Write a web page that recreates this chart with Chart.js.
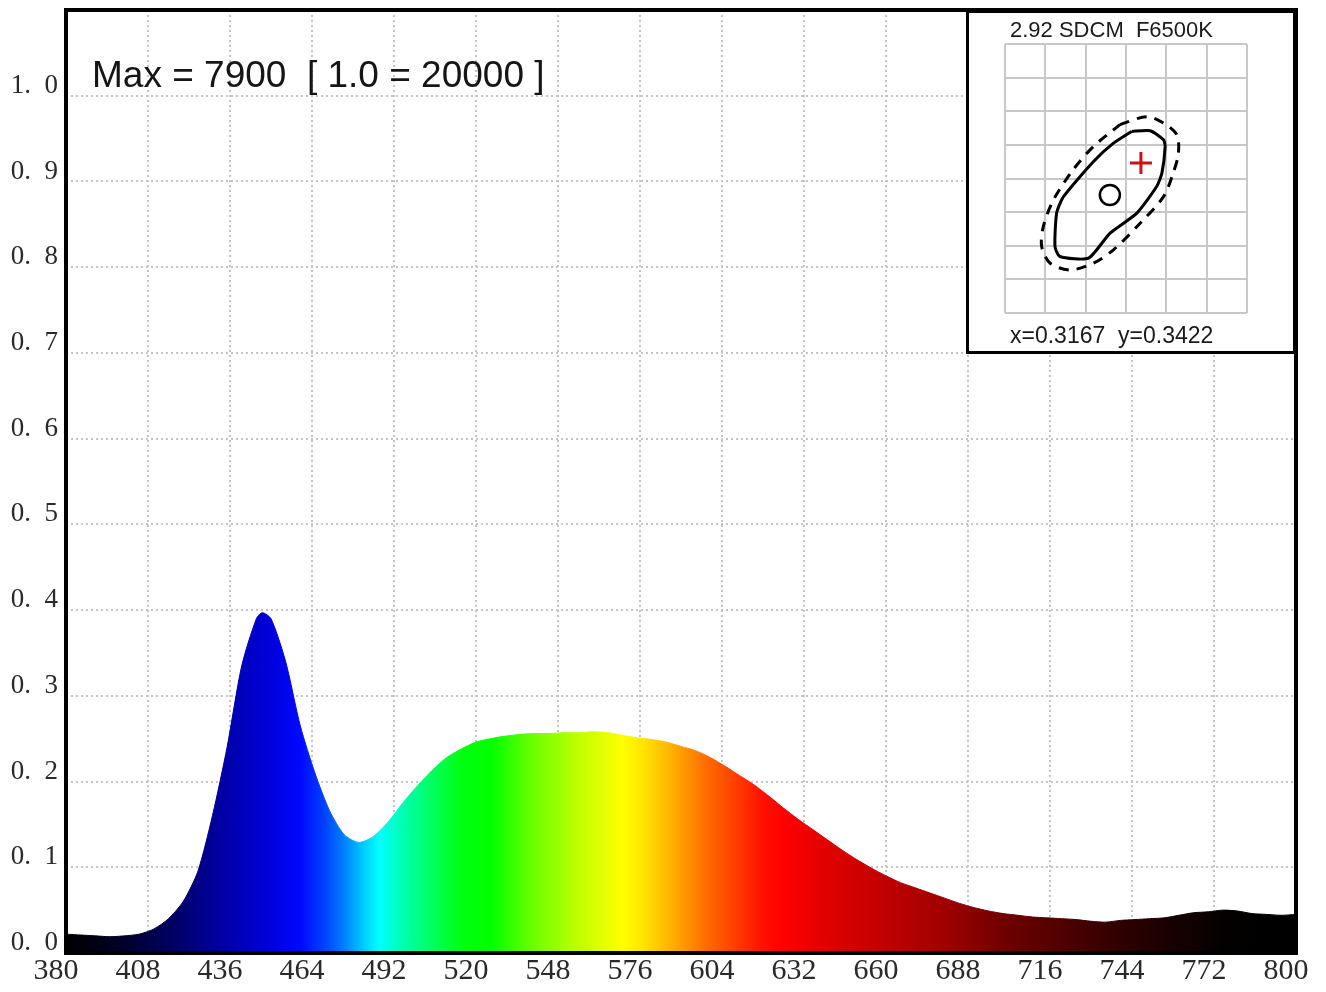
<!DOCTYPE html>
<html>
<head>
<meta charset="utf-8">
<script src="https://cdn.jsdelivr.net/npm/chart.js@4"></script>
<style>
  html, body { margin: 0; padding: 0; background: #fff; }
  #wrap { position: relative; width: 1326px; height: 992px; }
  #spectrum { position: absolute; left: 0; top: 0; }
  #inset { position: absolute; left: 966px; top: 10px; background: #fff; }
</style>
</head>
<body>
<div id="wrap">
  <canvas id="spectrum" width="1326" height="992"></canvas>
  <canvas id="inset" width="330" height="344"></canvas>
</div>
<script>
/* ── Data: relative spectral power (1.0 = 20000) ─────────── */

const wavelengths = [
  380, 385, 390, 395, 400, 405, 410, 415, 420, 425, 430, 435, 440, 445, 447, 450,
  455, 460, 465, 470, 475, 480, 485, 490, 495, 500, 505, 510, 515, 520, 525, 530,
  535, 540, 545, 550, 555, 560, 565, 570, 575, 580, 585, 590, 595, 600, 605, 610,
  615, 620, 625, 630, 635, 640, 645, 650, 655, 660, 665, 670, 675, 680, 685, 690,
  695, 700, 705, 710, 715, 720, 725, 730, 735, 740, 745, 750, 755, 760, 765, 770,
  775, 780, 785, 790, 795, 800
];

const intensity = [
  0.022, 0.021, 0.020, 0.019, 0.020, 0.022, 0.028, 0.040, 0.060, 0.095, 0.160, 0.240, 0.335, 0.390, 0.397, 0.390,
  0.340, 0.265, 0.210, 0.166, 0.138, 0.129, 0.136, 0.153, 0.175, 0.195, 0.213, 0.228, 0.238, 0.246, 0.250, 0.253,
  0.255, 0.256, 0.256, 0.257, 0.257, 0.258, 0.257, 0.254, 0.251, 0.249, 0.246, 0.241, 0.236, 0.228, 0.218, 0.207,
  0.196, 0.183, 0.169, 0.156, 0.144, 0.132, 0.120, 0.109, 0.099, 0.090, 0.082, 0.076, 0.070, 0.064, 0.058, 0.053,
  0.049, 0.046, 0.044, 0.042, 0.041, 0.040, 0.039, 0.037, 0.036, 0.038, 0.039, 0.040, 0.041, 0.044, 0.047, 0.048,
  0.050, 0.049, 0.046, 0.045, 0.044, 0.045
];

const xTickStep = 28;
const yTickStep = 0.1;

/* ── Data: chromaticity inset (grid units, 6 x 8 cells) ──── */

const solidContourX = [3.14, 3.60, 3.93, 3.97, 3.89, 3.76, 3.27, 2.60, 2.07, 1.36, 1.24, 1.28, 1.45, 2.19, 2.69, 3.14];
const solidContourY = [5.40, 5.42, 5.15, 4.95, 4.16, 3.76, 2.97, 2.37, 1.63, 1.68, 1.97, 2.97, 3.46, 4.50, 5.05, 5.40];

const dashedContourX = [2.85, 3.51, 3.93, 4.26, 4.30, 4.17, 3.93, 3.35, 2.69, 2.19, 1.61, 1.12, 0.91, 0.95, 1.20, 1.69, 2.19, 2.85];
const dashedContourY = [5.60, 5.84, 5.65, 5.30, 4.75, 4.16, 3.46, 2.67, 1.88, 1.48, 1.28, 1.48, 1.97, 2.57, 3.36, 4.26, 4.95, 5.60];

const targetPoint = { x: 2.60, y: 3.51 };
const measuredPoint = { x: 3.37, y: 4.46 };

/* ── Spectrum colours ─────────────────────────────────────── */

const SPECTRUM_STOPS = [
  [380, '#000000'], [400, '#00002a'], [410, '#000050'], [420, '#000070'],
  [430, '#000098'], [440, '#0000bc'], [450, '#0000dc'], [460, '#0008ff'],
  [468, '#0040ff'], [475, '#0080ff'], [482, '#00d0ff'], [487, '#00ffff'],
  [495, '#00ffb0'], [505, '#00ff60'], [515, '#00ff10'], [525, '#00ff00'],
  [540, '#70ff00'], [555, '#c0ff00'], [570, '#ffff00'], [578, '#ffe000'],
  [588, '#ffaa00'], [598, '#ff7000'], [608, '#ff4000'], [618, '#ff1000'],
  [625, '#ff0000'], [640, '#e00000'], [660, '#c00000'], [680, '#a00000'],
  [700, '#700000'], [720, '#500000'], [740, '#300000'], [760, '#150000'],
  [775, '#050000'], [790, '#000000'], [800, '#000000'],
];

let cachedGradient = null;
let cachedWidth = 0;

function spectrumGradient(context) {
  const chart = context.chart;
  const { ctx, chartArea, scales } = chart;
  if (!chartArea) return '#000';
  const width = chartArea.right - chartArea.left;
  if (cachedGradient && cachedWidth === width) return cachedGradient;
  const x0 = scales.x.getPixelForValue(380);
  const x1 = scales.x.getPixelForValue(800);
  const g = ctx.createLinearGradient(x0, 0, x1, 0);
  SPECTRUM_STOPS.forEach(([nm, color]) => {
    const p = (scales.x.getPixelForValue(nm) - x0) / (x1 - x0);
    g.addColorStop(Math.min(1, Math.max(0, p)), color);
  });
  cachedGradient = g;
  cachedWidth = width;
  return g;
}

/* ── Plugins ──────────────────────────────────────────────── */

const framePlugin = {
  id: 'frame',
  afterDraw(chart, args, opts) {
    const { ctx, chartArea } = chart;
    ctx.save();
    ctx.strokeStyle = '#000';
    ctx.lineWidth = opts.width || 3;
    ctx.strokeRect(chartArea.left, chartArea.top,
      chartArea.right - chartArea.left, chartArea.bottom - chartArea.top);
    ctx.restore();
  },
};

const maxLabelPlugin = {
  id: 'maxLabel',
  afterDatasetsDraw(chart) {
    const { ctx, chartArea } = chart;
    ctx.save();
    ctx.font = '37px "Liberation Sans", Arial, sans-serif';
    ctx.fillStyle = '#151515';
    ctx.textBaseline = 'alphabetic';
    ctx.fillText('Max = 7900  [ 1.0 = 20000 ]', chartArea.left + 26, chartArea.top + 77);
    ctx.restore();
  },
};

const insetTextPlugin = {
  id: 'insetText',
  afterDraw(chart) {
    const { ctx, chartArea, width, height } = chart;
    ctx.save();
    ctx.strokeStyle = '#000';
    ctx.lineWidth = 3;
    ctx.strokeRect(1.5, 1.5, width - 3, height - 3);
    ctx.fillStyle = '#1a1a1a';
    ctx.font = '22px "Liberation Sans", Arial, sans-serif';
    ctx.fillText('2.92 SDCM  F6500K', chartArea.left + 5, chartArea.top - 7);
    ctx.font = '23px "Liberation Sans", Arial, sans-serif';
    ctx.fillText('x=0.3167  y=0.3422', chartArea.left + 5, chartArea.bottom + 30);
    ctx.restore();
  },
};

/* ── Main spectrum chart ──────────────────────────────────── */

function formatYTick(value) {
  if (value > 1.05) return '';
  const s = value.toFixed(1);
  return s.replace('.', '.\u2002');
}

// fixed plot box: scales must not add their own label padding
function fixX(scale) {
  scale.height = 39;
  scale.paddingLeft = 0;
  scale.paddingRight = 0;
}

function fixY(scale) {
  scale.width = 66;
  scale.paddingTop = 0;
  scale.paddingBottom = 0;
}

new Chart(document.getElementById('spectrum'), {
  type: 'line',
  data: {
    datasets: [
      {
        data: wavelengths.map((w, i) => ({ x: w, y: intensity[i] })),
        backgroundColor: spectrumGradient,
        borderColor: spectrumGradient,
        borderWidth: 1,
        pointRadius: 0,
        fill: 'origin',
        tension: 0.25,
      },
    ],
  },
  options: {
    responsive: false,
    animation: false,
    devicePixelRatio: 1,
    layout: { padding: { top: 10, right: 30, left: 0, bottom: 0 } },
    plugins: {
      legend: { display: false },
      tooltip: { enabled: false },
      frame: { width: 4 },
    },
    scales: {
      x: {
        type: 'linear',
        min: 380,
        max: 800,
        afterFit: fixX,
        ticks: {
          stepSize: xTickStep,
          color: '#2a2a2a',
          font: { family: '"Liberation Serif", "DejaVu Serif", serif', size: 30 },
          padding: 0,
          labelOffset: -10,
          maxRotation: 0,
          autoSkip: false,
        },
        grid: { color: '#c4c4c4', lineWidth: 2, drawTicks: false },
        border: { display: false, dash: [2, 3] },
      },
      y: {
        min: 0,
        max: 1.1,
        afterFit: fixY,
        ticks: {
          stepSize: yTickStep,
          color: '#2a2a2a',
          font: { family: '"Liberation Serif", "DejaVu Serif", serif', size: 27 },
          padding: 8,
          labelOffset: -10,
          callback: formatYTick,
        },
        grid: { color: '#c4c4c4', lineWidth: 2, drawTicks: false },
        border: { display: false, dash: [2, 3] },
      },
    },
  },
  plugins: [framePlugin, maxLabelPlugin],
});

/* ── Inset chromaticity chart ─────────────────────────────── */

const toPoints = (xs, ys) => xs.map((x, i) => ({ x, y: ys[i] }));

new Chart(document.getElementById('inset'), {
  type: 'scatter',
  data: {
    datasets: [
      {
        data: toPoints(solidContourX, solidContourY),
        showLine: true,
        borderColor: '#000',
        borderWidth: 3,
        pointRadius: 0,
        tension: 0.2,
      },
      {
        data: toPoints(dashedContourX, dashedContourY),
        showLine: true,
        borderColor: '#000',
        borderWidth: 3,
        borderDash: [10, 8],
        pointRadius: 0,
        tension: 0.3,
      },
      {
        data: [targetPoint],
        pointStyle: 'circle',
        pointRadius: 10,
        borderColor: '#000',
        backgroundColor: 'rgba(0,0,0,0)',
        borderWidth: 2.5,
      },
      {
        data: [measuredPoint],
        pointStyle: 'cross',
        pointRadius: 11,
        borderColor: '#d01010',
        borderWidth: 3,
      },
    ],
  },
  options: {
    responsive: false,
    animation: false,
    devicePixelRatio: 1,
    layout: { padding: { left: 39, right: 49, top: 34, bottom: 41 } },
    plugins: { legend: { display: false }, tooltip: { enabled: false } },
    scales: {
      x: {
        min: 0, max: 6,
        afterFit: (scale) => { scale.height = 0; },
        ticks: { display: false, stepSize: 1 },
        grid: { color: '#c8c8c8', lineWidth: 2, drawTicks: false },
        border: { display: false },
      },
      y: {
        min: 0, max: 8,
        afterFit: (scale) => { scale.width = 0; },
        ticks: { display: false, stepSize: 1 },
        grid: { color: '#c8c8c8', lineWidth: 2, drawTicks: false },
        border: { display: false },
      },
    },
  },
  plugins: [insetTextPlugin],
});
</script>
</body>
</html>
